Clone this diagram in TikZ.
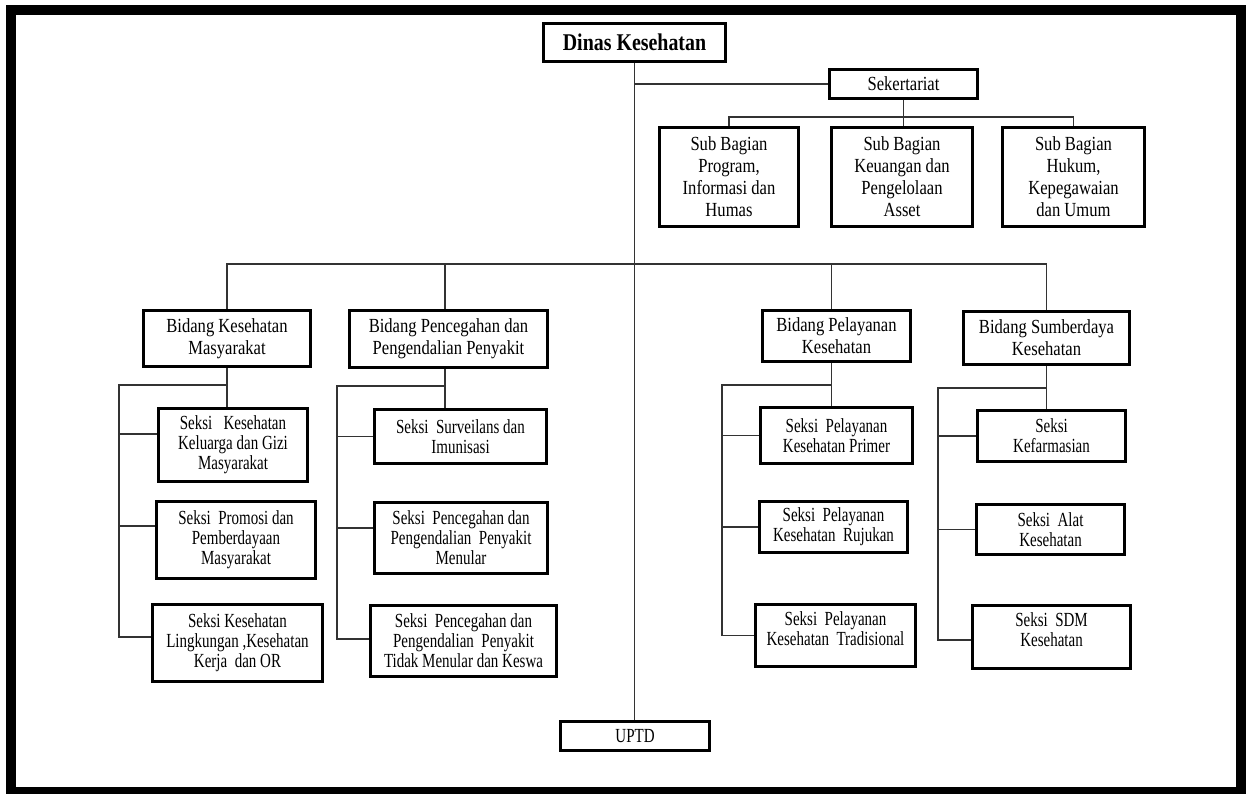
\documentclass[tikz,border=0pt]{standalone}
\usepackage{fontspec}
\setmainfont{Liberation Serif}[FakeStretch=0.83]
\newfontfamily\seksifont{Liberation Serif}[FakeStretch=0.75]
\usetikzlibrary{positioning,calc}

\begin{document}
\begin{tikzpicture}[x=1pt,y=-1pt]
  \tikzstyle{box}=[draw,line width=2.6pt,align=center,inner sep=1pt,font={\fontsize{20}{22}\selectfont}]
  \tikzstyle{seksi}=[box,font={\seksifont\fontsize{20}{20}\selectfont}]
  \tikzstyle{link}=[line width=1.4pt,black!80]

  \useasboundingbox (0,0) rectangle (1251,794);
  \fill[white] (0,0) rectangle (1251,794);
  \draw[line width=10pt] (10.5,10) rectangle (1240.5,792);

  % pimpinan dan sekretariat
  \node[box,font={\bfseries\fontsize{24}{26}\selectfont},minimum width=182,minimum height=38] (dinas) at (634.5,42.5) {Dinas Kesehatan};
  \node[box,minimum width=148,minimum height=29] (sekr) at (903.5,84) {Sekertariat};
  \node[box,minimum width=139,minimum height=99] (sb1) at (729,177) {Sub Bagian\\Program,\\Informasi dan\\Humas};
  \node[box,minimum width=141,minimum height=99] (sb2) at (902,177) {Sub Bagian\\Keuangan dan\\Pengelolaan\\Asset};
  \node[box,minimum width=142,minimum height=99] (sb3) at (1073.5,177) {Sub Bagian\\Hukum,\\Kepegawaian\\dan Umum};

  % bidang
  \node[box,minimum width=167,minimum height=56] (bkm) at (227,338.5) {Bidang Kesehatan\\Masyarakat};
  \node[box,minimum width=198,minimum height=57] (bp2p) at (448.5,339) {Bidang Pencegahan dan\\Pengendalian Penyakit};
  \node[box,minimum width=148,minimum height=51] (bpel) at (836.5,336) {Bidang Pelayanan\\Kesehatan};
  \node[box,minimum width=166,minimum height=53] (bsdk) at (1046.5,338) {Bidang Sumberdaya\\Kesehatan};

  % seksi
  \node[seksi,minimum width=149,minimum height=73] (k1) at (233,445) {Seksi\ \ \ Kesehatan\\Keluarga dan Gizi\\Masyarakat};
  \node[seksi,minimum width=159,minimum height=77] (k2) at (236,540) {Seksi\ \ Promosi dan\\Pemberdayaan\\Masyarakat};
  \node[seksi,minimum width=170,minimum height=77] (k3) at (237.5,643) {Seksi Kesehatan\\Lingkungan ,Kesehatan\\Kerja\ \ dan OR};
  \node[seksi,minimum width=172,minimum height=54] (p1) at (460.5,436.5) {Seksi\ \ Surveilans dan\\Imunisasi};
  \node[seksi,minimum width=173,minimum height=71] (p2) at (461,538) {Seksi\ \ Pencegahan dan\\Pengendalian\ \ Penyakit\\Menular};
  \node[seksi,minimum width=186,minimum height=71] (p3) at (463.5,641) {Seksi\ \ Pencegahan dan\\Pengendalian\ \ Penyakit\\Tidak Menular dan Keswa};
  \node[seksi,minimum width=152,minimum height=56] (l1) at (836.5,435.5) {Seksi\ \ Pelayanan\\Kesehatan Primer};
  \node[seksi,minimum width=148,minimum height=51] (l2) at (833.5,527) {Seksi\ \ Pelayanan\\Kesehatan\ \ Rujukan};
  \node[seksi,minimum width=160,minimum height=62,text depth=14pt] (l3) at (835.5,635.5) {Seksi\ \ Pelayanan\\Kesehatan\ \ Tradisional};
  \node[seksi,minimum width=148,minimum height=51] (s1) at (1051.5,436) {Seksi\\Kefarmasian};
  \node[seksi,minimum width=148,minimum height=50] (s2) at (1050.5,529.5) {Seksi\ \ Alat\\Kesehatan};
  \node[seksi,minimum width=158,minimum height=63,text depth=14pt] (s3) at (1051.5,637) {Seksi\ \ SDM\\Kesehatan};

  \node[seksi,minimum width=149,minimum height=29] (uptd) at (635,736) {UPTD};

  % garis komando
  \coordinate (sbbus) at (903.5,117);
  \coordinate (bus) at (634.5,264);
  \draw[link] (dinas.south) -- (dinas.south |- uptd.north);
  \draw[link] (sekr.west) -- (sekr.west -| dinas.south);
  \draw[link] (sekr.south) -- (sbbus);
  \draw[link] (sb1.north) |- (sbbus) -| (sb3.north);
  \draw[link] (sbbus) -- (sbbus |- sb2.north);
  \draw[link] (bkm.north) |- (bus) -| (bsdk.north);
  \draw[link] ([xshift=-3.5pt]bp2p.north) -- ([xshift=-3.5pt]bp2p.north |- bus);
  \draw[link] ([xshift=-5pt]bpel.north) -- ([xshift=-5pt]bpel.north |- bus);

  % kesehatan masyarakat
  \coordinate (kmL) at (119,385);
  \draw[link] (bkm.south) -- (bkm.south |- k1.north);
  \draw[link] (kmL -| bkm.south) -- (kmL) |- ([yshift=6pt]k3.west);
  \draw[link] ([yshift=11pt]k1.west) -- ([yshift=11pt]k1.west -| kmL);
  \draw[link] ([yshift=14pt]k2.west) -- ([yshift=14pt]k2.west -| kmL);

  % pencegahan dan pengendalian penyakit
  \coordinate (ppL) at (337,386);
  \draw[link] ([xshift=-3.5pt]bp2p.south) -- ([xshift=-3.5pt]bp2p.south |- p1.north);
  \draw[link] ([xshift=-3.5pt]bp2p.south |- ppL) -- (ppL) |- ([yshift=2pt]p3.west);
  \draw[link] (p1.west) -- (p1.west -| ppL);
  \draw[link] ([yshift=10pt]p2.west) -- ([yshift=10pt]p2.west -| ppL);

  % pelayanan kesehatan
  \coordinate (plL) at (722,385);
  \draw[link] ([xshift=-5pt]bpel.south) -- ([xshift=-5pt]bpel.south |- l1.north);
  \draw[link] ([xshift=-5pt]bpel.south |- plL) -- (plL) |- (l3.west);
  \draw[link] (l1.west) -- (l1.west -| plL);
  \draw[link] (l2.west) -- (l2.west -| plL);

  % sumberdaya kesehatan
  \coordinate (sdL) at (938,388);
  \draw[link] (bsdk.south) -- (bsdk.south |- s1.north);
  \draw[link] (sdL -| bsdk.south) -- (sdL) |- ([yshift=-3pt]s3.west);
  \draw[link] (s1.west) -- (s1.west -| sdL);
  \draw[link] (s2.west) -- (s2.west -| sdL);
\end{tikzpicture}
\end{document}
